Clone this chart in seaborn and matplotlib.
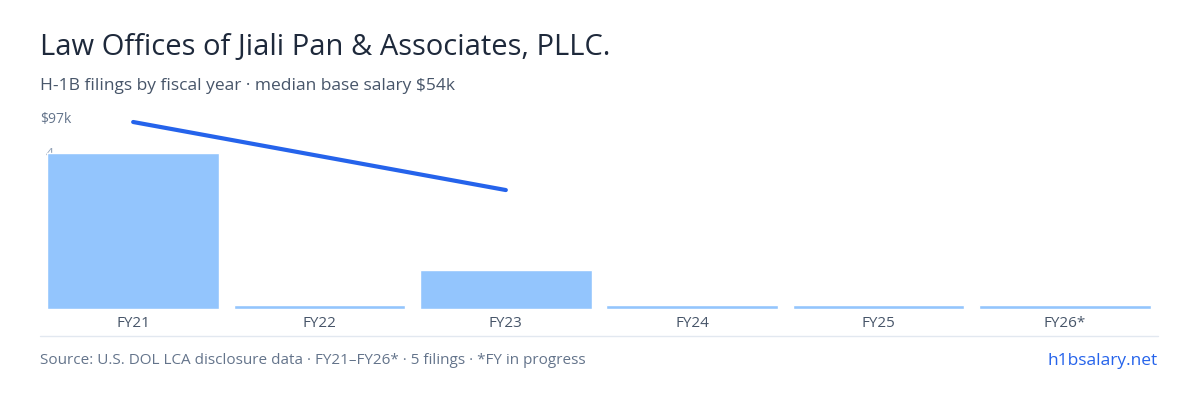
import matplotlib
matplotlib.use("Agg")
import matplotlib.pyplot as plt
import seaborn as sns
import pandas as pd
from matplotlib.lines import Line2D

years = ["FY21", "FY22", "FY23", "FY24", "FY25", "FY26*"]
filings = [4, 0, 1, 0, 0, 0]
salary_k = [97, None, 61.7, None, None, None]

sns.set_style("white")
plt.rcParams["font.family"] = ["Open Sans", "DejaVu Sans"]

fig = plt.figure(figsize=(12, 4), dpi=100)
ax = fig.add_axes([40 / 1200, 91 / 400, 1118 / 1200, 199 / 400])

df = pd.DataFrame({"year": years, "n": [max(v, 0.1) for v in filings]})
sns.barplot(data=df, x="year", y="n", color="#93c5fd", width=0.92, saturation=1, ax=ax)
ax.set_ylim(0, 4 * 199 / 156)
ax.set_xlim(-0.5, 5.5)
ax.yaxis.tick_right()
ax.set_yticks([2, 4])
ax.tick_params(axis="y", length=0, labelsize=10, colors="#94a3b8", pad=-10)
for t in ax.get_yticklabels():
    t.set_horizontalalignment("right")
ax.tick_params(axis="x", length=0, labelsize=11, colors="#475569", pad=5)
ax.set_xlabel("")
ax.set_ylabel("")
for s in ax.spines.values():
    s.set_visible(False)

ax2 = ax.twinx()
line_df = pd.DataFrame({"x": [i for i, v in enumerate(salary_k) if v is not None],
                        "s": [v for v in salary_k if v is not None]})
sns.lineplot(data=line_df, x="x", y="s", color="#2563eb", linewidth=3, ax=ax2)
ax2.set_ylim(0, 97 * 199 / 187)
ax2.set_xlim(-0.5, 5.5)
ax2.set_yticks([])
ax2.set_ylabel("")
for s in ax2.spines.values():
    s.set_visible(False)

fig.add_artist(Line2D([40 / 1200, 1158 / 1200], [1 - 336 / 400] * 2, color="#e2e8f0", lw=1))
fig.text(40 / 1200, 1 - 48 / 400, "Law Offices of Jiali Pan & Associates, PLLC.", fontsize=21,
         color="#1e293b", va="center")
fig.text(40 / 1200, 1 - 86 / 400, "H-1B filings by fiscal year · median base salary $54k", fontsize=12.5,
         color="#475569", va="center")
fig.text(40 / 1200, 1 - 120 / 400, "$97k", fontsize=10, color="#64748b", va="center")
fig.text(40 / 1200, 1 - 361 / 400, "Source: U.S. DOL LCA disclosure data · FY21–FY26* · 5 filings · *FY in progress",
         fontsize=11, color="#64748b", va="center")
fig.text(1158 / 1200, 1 - 361 / 400, "h1bsalary.net", fontsize=12.5, color="#2563eb", va="center", ha="right")

fig.savefig("out.png", dpi=100)
